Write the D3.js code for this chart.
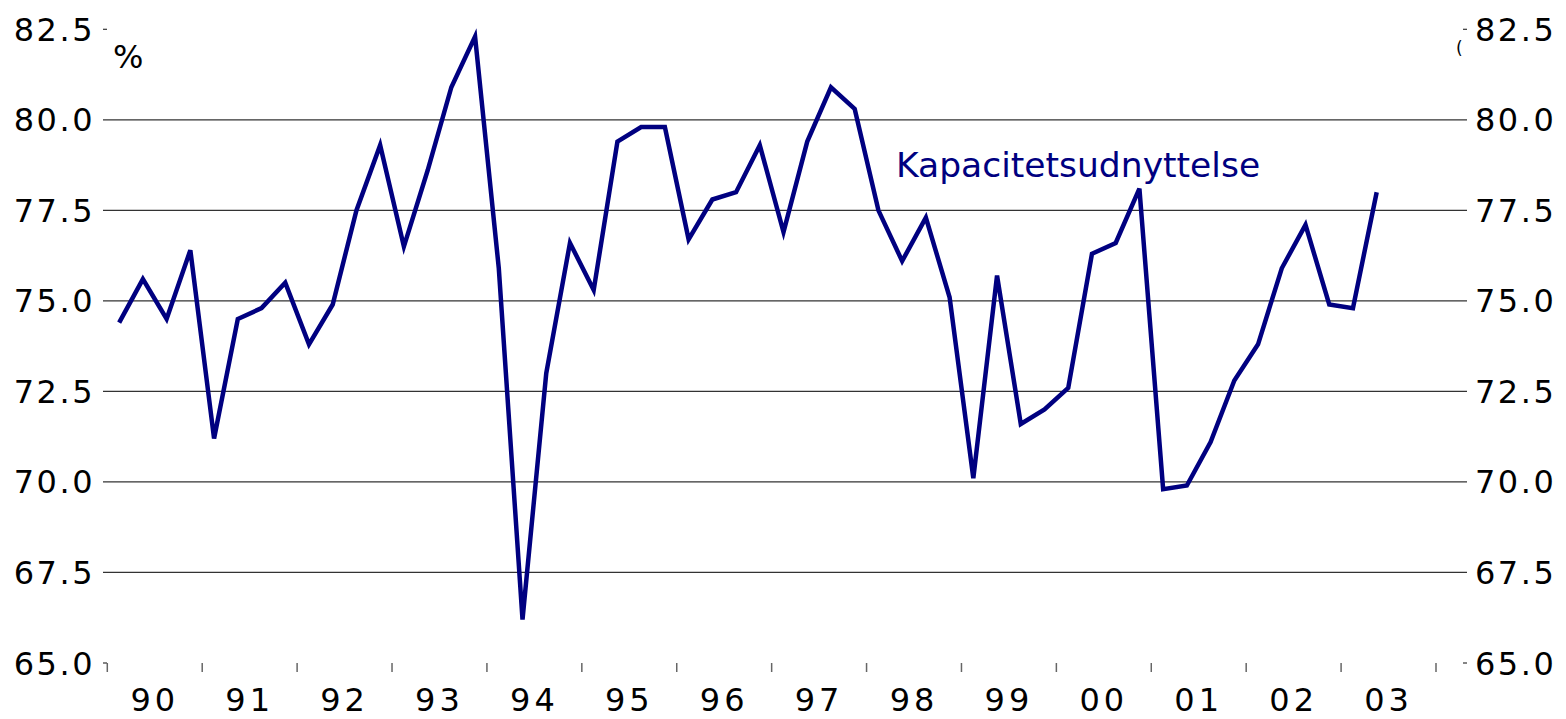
<!DOCTYPE html>
<html>
<head>
<meta charset="utf-8">
<script src="https://cdn.jsdelivr.net/npm/d3@7"></script>
<style>
  html, body { margin: 0; padding: 0; background: #fff; }
  svg text { font-family: "DejaVu Sans", sans-serif; }
</style>
</head>
<body>
<svg id="chart"></svg>
<script>
var w = 1566;
var h = 719;

// quarterly data 1990Q1 - 2003Q2
var startYear = 1990;
var values = [
  74.4, 75.6, 74.5, 76.4,
  71.2, 74.5, 74.8, 75.5,
  73.8, 74.9, 77.5, 79.3,
  76.5, 78.6, 80.9, 82.3,
  75.9, 66.2, 73.0, 76.6,
  75.3, 79.4, 79.8, 79.8,
  76.7, 77.8, 78.0, 79.3,
  76.9, 79.4, 80.9, 80.3,
  77.5, 76.1, 77.3, 75.1,
  70.1, 75.7, 71.6, 72.0,
  72.6, 76.3, 76.6, 78.1,
  69.8, 69.9, 71.1, 72.8,
  73.8, 75.9, 77.1, 74.9,
  74.8, 78.0
];
var yearLabels = ["90", "91", "92", "93", "94", "95", "96", "97", "98", "99", "00", "01", "02", "03"];
var yTicks = [65.0, 67.5, 70.0, 72.5, 75.0, 77.5, 80.0, 82.5];
var seriesName = "Kapacitetsudnyttelse";

var svg = d3.select("#chart")
    .attr("width", w)
    .attr("height", h);

var x = d3.scaleLinear()
    .domain([1990, 2004])
    .range([107.3, 1436]);
var y = d3.scaleLinear()
    .domain([65, 82.5])
    .range([663, 29.3]);

var gridLeft = 103, gridRight = 1467;

// gridlines (only inner values), short ticks at the ends
svg.selectAll("line.grid")
    .data(yTicks)
    .enter()
    .append("line")
    .attr("class", "grid")
    .attr("x1", gridLeft)
    .attr("x2", d => (d == 65 || d == 82.5) ? 107 : gridRight)
    .attr("y1", d => y(d))
    .attr("y2", d => y(d))
    .attr("stroke", "#333")
    .attr("stroke-width", 1.2);
svg.selectAll("line.rtick")
    .data([65, 82.5])
    .enter()
    .append("line")
    .attr("x1", 1463)
    .attr("x2", gridRight)
    .attr("y1", d => y(d))
    .attr("y2", d => y(d))
    .attr("stroke", "#333")
    .attr("stroke-width", 1.2);

// x axis ticks at year boundaries
var yearEdges = d3.range(1990, 2005);
svg.selectAll("line.xtick")
    .data(yearEdges)
    .enter()
    .append("line")
    .attr("x1", d => x(d))
    .attr("x2", d => x(d))
    .attr("y1", 663)
    .attr("y2", 672)
    .attr("stroke", "#666")
    .attr("stroke-width", 1.5);

// y labels, both sides
svg.selectAll("text.yl")
    .data(yTicks)
    .enter()
    .append("text")
    .attr("x", 95)
    .attr("y", d => y(d) + 11.5)
    .attr("text-anchor", "end")
    .attr("font-size", 32)
    .attr("letter-spacing", 2.5)
    .text(d => d.toFixed(1));
svg.selectAll("text.yr")
    .data(yTicks)
    .enter()
    .append("text")
    .attr("x", 1475)
    .attr("y", d => y(d) + 11.5)
    .attr("font-size", 32)
    .attr("letter-spacing", 2.5)
    .text(d => d.toFixed(1));

// year labels
svg.selectAll("text.xl")
    .data(yearLabels)
    .enter()
    .append("text")
    .attr("x", (d, i) => x(1990 + i + 0.5))
    .attr("y", 711)
    .attr("text-anchor", "middle")
    .attr("font-size", 32)
    .attr("letter-spacing", 4)
    .text(d => d);

// unit
svg.append("text")
    .attr("x", 113)
    .attr("y", 68)
    .attr("font-size", 32)
    .text("%");

// cut-off unit mark on the right
svg.append("text")
    .attr("x", 1456)
    .attr("y", 54)
    .attr("font-size", 17)
    .text("(");

// series line
var line = d3.line()
    .x((d, i) => x(startYear + (i + 0.5) / 4))
    .y(d => y(d));
svg.append("path")
    .datum(values)
    .attr("d", line)
    .attr("fill", "none")
    .attr("stroke", "#000080")
    .attr("stroke-width", 4.5)
    .attr("stroke-linejoin", "miter");

svg.append("text")
    .attr("x", 896)
    .attr("y", 177)
    .attr("font-size", 34.5)
    .attr("fill", "#000080")
    .text(seriesName);
</script>
</body>
</html>
